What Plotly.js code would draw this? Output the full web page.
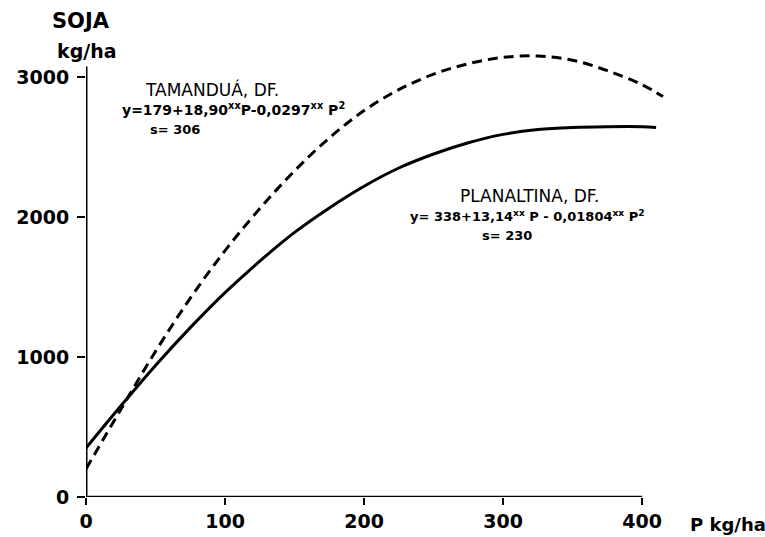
<!DOCTYPE html>
<html>
<head>
<meta charset="utf-8">
<script src="https://cdn.plot.ly/plotly-3.0.1.min.js"></script>
<style>html,body{margin:0;padding:0;background:#fff;}#chart{width:765px;height:537px;}</style>
</head>
<body>
<div id="chart"></div>
<script>
// P doses (kg/ha) and soybean yields (kg/ha)
const pPlanaltina = [0, 25, 50, 75, 100, 125, 150, 175, 200, 225, 250, 275, 300, 325, 350, 375, 400, 410];
const yPlanaltina = [350, 650, 940, 1210, 1460, 1685, 1890, 2065, 2220, 2350, 2450, 2530, 2590, 2625, 2640, 2645, 2645, 2640];
const pTamandua = [0, 25, 50, 75, 100, 125, 150, 175, 200, 225, 250, 275, 300, 325, 350, 375, 400, 415];
const yTamandua = [200, 625, 1040, 1420, 1760, 2060, 2330, 2565, 2760, 2910, 3020, 3095, 3140, 3150, 3120, 3045, 2945, 2860];
const xTicks = [0, 100, 200, 300, 400];
const yTicks = [0, 1000, 2000, 3000];

const W = 765, H = 537;
const L = 86, T = 42, PW = 583.8, PH = 455;
const px = v => (v - L) / PW;
const py = v => (T + PH - v) / PH;

const traces = [
  {x: pTamandua, y: yTamandua, mode: 'lines', line: {color: '#000', width: 3, dash: '10px,6px', shape: 'spline'}, hoverinfo: 'skip'},
  {x: pPlanaltina, y: yPlanaltina, mode: 'lines', line: {color: '#000', width: 3, shape: 'spline'}, hoverinfo: 'skip'}
];

const tickFont = {family: 'DejaVu Sans', size: 19, color: '#000', weight: 'bold'};
const nameFont = {family: 'DejaVu Sans', size: 17, color: '#000'};

function ann(text, x, y, font, xanchor) {
  return {text: text, x: px(x), y: py(y), xref: 'paper', yref: 'paper', showarrow: false,
          xanchor: xanchor || 'left', yanchor: 'middle', font: font};
}

const layout = {
  width: W, height: H,
  margin: {l: L, r: W - L - PW, t: T, b: H - T - PH},
  paper_bgcolor: '#fff', plot_bgcolor: '#fff',
  showlegend: false,
  xaxis: {range: [0, 420], tickvals: xTicks, ticktext: xTicks.map(String), ticks: 'outside', ticklen: 7, tickwidth: 2, tickcolor: '#000',
          showgrid: false, zeroline: false, showline: false, tickfont: tickFont, ticklabelstandoff: 0},
  yaxis: {range: [0, 3250], tickvals: yTicks, ticktext: yTicks.map(String), ticks: 'outside', ticklen: 8, tickwidth: 2, tickcolor: '#000',
          showgrid: false, zeroline: false, showline: false, tickfont: tickFont, ticklabelstandoff: 4},
  shapes: [
    {type: 'line', xref: 'x', yref: 'y', x0: 0, x1: 400, y0: 0, y1: 0, line: {color: '#000', width: 2.5}},
    {type: 'line', xref: 'x', yref: 'y', x0: 0, x1: 0, y0: 0, y1: 3075, line: {color: '#000', width: 3}}
  ],
  annotations: [
    ann('SOJA', 81, 21, {family: 'DejaVu Sans', size: 21, color: '#000', weight: 'bold'}, 'center'),
    ann('kg/ha', 87, 51, {family: 'DejaVu Sans', size: 19, color: '#000', weight: 'bold'}, 'center'),
    ann('P kg/ha', 688, 524, {family: 'DejaVu Sans', size: 18, color: '#000', weight: 'bold'}),
    ann('TAMANDUÁ, DF.', 143, 90, nameFont),
    ann('y=179+18,90<sup>xx</sup>P-0,0297<sup>xx</sup> P<sup>2</sup>', 120, 109, {family: 'DejaVu Sans', size: 14, color: '#000', weight: 'bold'}),
    ann('s= 306', 148, 129, {family: 'DejaVu Sans', size: 13, color: '#000', weight: 'bold'}),
    ann('PLANALTINA, DF.', 458, 196, nameFont),
    ann('y= 338+13,14<sup>xx</sup> P - 0,01804<sup>xx</sup> P<sup>2</sup>', 408, 216, {family: 'DejaVu Sans', size: 13, color: '#000', weight: 'bold'}),
    ann('s= 230', 480, 235, {family: 'DejaVu Sans', size: 13, color: '#000', weight: 'bold'})
  ]
};

Plotly.newPlot('chart', traces, layout, {staticPlot: true, displayModeBar: false});
</script>
</body>
</html>
